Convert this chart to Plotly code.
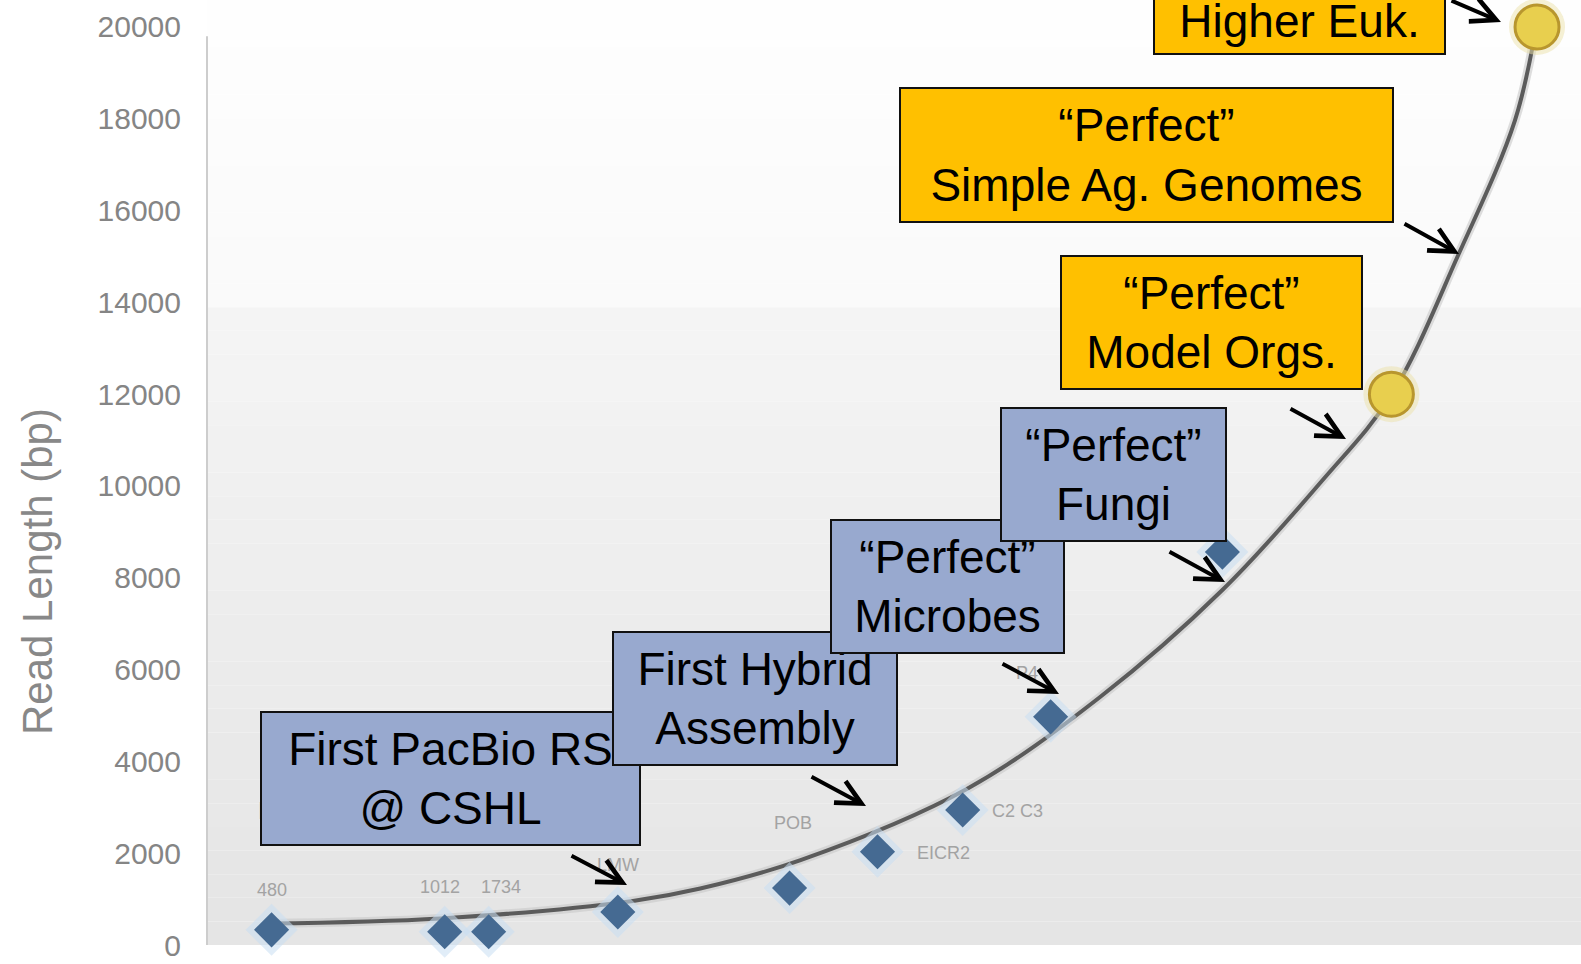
"""Read-length roadmap chart: milestones, trend curve and call-out boxes."""

import plotly.graph_objects as go

# Released read-length milestones (diamonds): timeline position, read length (bp)
release_x = [4.7, 17.3, 20.5, 29.9, 42.4, 48.8, 55.0, 61.4, 73.9]
release_bp = [330, 290, 290, 720, 1240, 2030, 2940, 4970, 8560]
release_labels = ["480", "1012", "1734", "LMW", "POB", "EICR2", "C2 C3", "P4", ""]

# Projected targets (yellow circles)
target_x = [86.2, 96.8]
target_bp = [12000, 20000]

# Trend curve
trend_x = [4.4, 17.0, 31.0, 35.9, 43.2, 55.3, 65.0, 73.9, 81.2, 86.2, 91.1, 95.2, 96.8]
trend_bp = [470, 580, 960, 1230, 1850, 3400, 5403, 7734, 10130, 11982, 15054, 17973, 20108]

y_ticks = [0, 2000, 4000, 6000, 8000, 10000, 12000, 14000, 16000, 18000, 20000]
y_title = "Read Length (bp)"

callouts = [
    "First PacBio RS<br>@ CSHL",
    "First Hybrid<br>Assembly",
    "“Perfect”<br>Microbes",
    "“Perfect”<br>Fungi",
    "“Perfect”<br>Model Orgs.",
    "“Perfect”<br>Simple Ag. Genomes",
    "Higher Euk.",
]

# ---- layout (pixel geometry of the 1581x964 page) ----
W, H = 1581, 964
PLOT_L = 207
_BLUE = "#98a9cf"
_ORANGE = "#ffc000"
_FONT = "Liberation Sans, Arial, sans-serif"
_DIAMOND = "#456a92"

# box: left, right, top, bottom (px) and fill
_BOX_GEOM = [
    (260, 641, 711, 846, _BLUE),
    (612, 898, 631, 766, _BLUE),
    (830, 1065, 519, 654, _BLUE),
    (1000, 1227, 407, 542, _BLUE),
    (1060, 1363, 255, 390, _ORANGE),
    (899, 1394, 87, 223, _ORANGE),
    (1153, 1446, -14, 55, _ORANGE),
]
# arrows: tail (px) -> head (px)
_ARROWS = [
    ((570, 855), (627, 885)),
    ((810, 776), (866, 806)),
    ((1001, 663), (1059, 694)),
    ((1168, 551), (1225, 582)),
    ((1289, 408), (1346, 439)),
    ((1403, 223), (1459, 254)),
    ((1450, -6), (1501, 22)),
]
# label offsets (px) relative to each diamond
_LABEL_SHIFT = [(0, 40), (-5, 45), (12, 45), (0, 47), (3, 65), (66, -1), (55, -1), (-24, 44), (0, 0)]


def _paper(px: float, py: float) -> tuple[float, float]:
    return (px - PLOT_L) / (W - PLOT_L), (H - py) / H


def _gray(level: int) -> str:
    return f"rgb({level},{level},{level})"


fig = go.Figure()

# soft background gradient of the original slide
shapes = []
bands = 40
for i in range(bands):
    y0 = i * 945 / bands
    y1 = (i + 1) * 945 / bands
    if y1 <= 320:
        lvl = round(254 - 5 * y0 / 320)
    else:
        lvl = round(244 - 16 * (y0 - 320) / 625)
    x0p, y0p = _paper(PLOT_L, y0)
    x1p, y1p = _paper(W, y1)
    shapes.append(dict(type="rect", xref="paper", yref="paper", x0=x0p, x1=x1p, y0=y1p, y1=y0p,
                       line={"width": 0}, fillcolor=_gray(lvl), layer="below"))
shapes.append(dict(type="line", xref="paper", yref="y", x0=0, x1=0, y0=0, y1=19800,
                   line={"color": "#cdcdcd", "width": 2}, layer="below"))

# trend curve with a faint glow
fig.add_scatter(x=trend_x, y=trend_bp, mode="lines", line={"color": "rgba(200,200,200,0.6)", "width": 9, "shape": "spline"},
                hoverinfo="skip")
fig.add_scatter(x=trend_x, y=trend_bp, mode="lines", line={"color": "#5b5b5b", "width": 4, "shape": "spline"},
                name="Trend")

# milestones
fig.add_scatter(x=release_x, y=release_bp, mode="markers", hoverinfo="skip",
                marker={"symbol": "diamond", "size": 40, "color": "rgba(200,222,242,0.55)"})
fig.add_scatter(x=release_x, y=release_bp, mode="markers", name="Released",
                marker={"symbol": "diamond", "size": 27, "color": _DIAMOND})
fig.add_scatter(x=target_x, y=target_bp, mode="markers", hoverinfo="skip",
                marker={"size": 56, "color": "rgba(235,225,170,0.5)"})
fig.add_scatter(x=target_x, y=target_bp, mode="markers", name="Target",
                marker={"size": 44, "color": "#e8cf4e", "line": {"color": "#b8962e", "width": 3}})

annotations = []
# faint milestone labels
for x, y, label, (dx, dy) in zip(release_x, release_bp, release_labels, _LABEL_SHIFT):
    if label:
        annotations.append(dict(x=x, y=y, xref="x", yref="y", text=label, showarrow=False,
                                xshift=dx, yshift=dy, font={"size": 18, "color": "#a3a3a3", "family": _FONT}))
ex, ey = _paper(256, 826)
annotations.append(dict(x=ex, y=ey, xref="paper", yref="paper", text="Early", showarrow=False,
                        font={"size": 24, "color": "#a8a8a8", "family": _FONT}))

# y-axis title
tx, ty = _paper(37, 572)
annotations.append(dict(x=tx, y=ty, xref="paper", yref="paper", text=y_title, textangle=-90,
                        xanchor="center", yanchor="middle", showarrow=False,
                        font={"size": 42, "color": "#888888", "family": _FONT}))

# call-out boxes, drawn in order so later boxes overlap earlier ones
for text, (left, right, top, bottom, fill) in zip(callouts, _BOX_GEOM):
    cx, cy = _paper((left + right) / 2, (top + bottom) / 2)
    annotations.append(dict(x=cx, y=cy, xref="paper", yref="paper", text=text, showarrow=False,
                            xanchor="center", yanchor="middle", align="center", valign="middle",
                            width=right - left - 4, height=bottom - top - 4,
                            bgcolor=fill, bordercolor="#111111", borderwidth=2, borderpad=0,
                            font={"size": 46, "color": "black", "family": _FONT}))

# arrows pointing at the curve
for (tx0, ty0), (hx, hy) in _ARROWS:
    ax, ay = _paper(hx, hy)
    annotations.append(dict(x=ax, y=ay, xref="paper", yref="paper", text="", showarrow=True,
                            ax=tx0 - hx, ay=ty0 - hy, arrowhead=5, arrowsize=1.2, arrowwidth=4,
                            arrowcolor="black", standoff=0))

fig.update_layout(
    width=W,
    height=H,
    margin={"l": PLOT_L, "r": 0, "t": 0, "b": 0},
    paper_bgcolor="white",
    plot_bgcolor="rgba(0,0,0,0)",
    showlegend=False,
    shapes=shapes,
    annotations=annotations,
    xaxis={"range": [0, 100], "visible": False},
    yaxis={
        "range": [-414, 20588],
        "tickvals": y_ticks,
        "ticktext": [str(v) for v in y_ticks],
        "ticks": "",
        "showgrid": False,
        "zeroline": False,
        "showline": False,
        "automargin": False,
        "ticklabelstandoff": 25,
        "tickfont": {"size": 30, "color": "#858585", "family": _FONT},
    },
)

fig.write_html(
    "out.html",
    config={"displayModeBar": False},
    post_script="document.body.style.margin = '0px';",
)
